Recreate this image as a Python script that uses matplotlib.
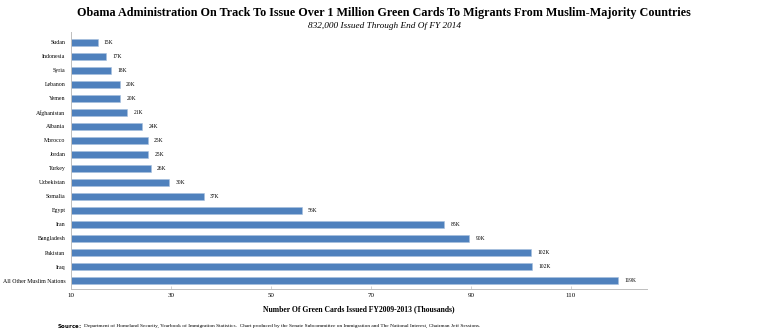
import matplotlib
matplotlib.use("Agg")
import matplotlib.pyplot as plt

# Data (thousands of green cards, FY2009-2013)
countries = ["Sudan", "Indonesia", "Syria", "Lebanon", "Yemen", "Afghanistan",
             "Albania", "Morocco", "Jordan", "Turkey", "Uzbekistan", "Somalia",
             "Egypt", "Iran", "Bangladesh", "Pakistan", "Iraq",
             "All Other Muslim Nations"]
values = [15.4, 17.1, 18.1, 19.8, 19.9, 21.3, 24.3, 25.4, 25.5, 26.0, 29.7, 36.6,
          56.2, 84.7, 89.7, 102.1, 102.3, 119.5]
labels = ["15K", "17K", "18K", "20K", "20K", "21K", "24K", "25K", "25K", "26K",
          "30K", "37K", "56K", "85K", "90K", "102K", "102K", "119K"]
xticks = [10, 30, 50, 70, 90, 110]

plt.rcParams['font.family'] = ['Liberation Serif', 'DejaVu Serif']

fig = plt.figure(figsize=(7.68, 3.31), dpi=100)
ax = fig.add_axes([0.0924, 0.127, 0.75, 0.775])

ypos = list(range(len(countries)))[::-1]
base = 10
ax.barh(ypos, [v - base for v in values], left=base, height=0.5,
        color="#4f81bd", edgecolor="#a7c0de", linewidth=0.4)
for y, v, t in zip(ypos, values, labels):
    ax.text(v + 1.2, y, t, va="center", ha="left", fontsize=4)

ax.set_xlim(10, 125.2)
ax.set_ylim(-0.6, len(countries) - 0.3)
ax.set_yticks(ypos)
ax.set_yticklabels(countries, fontsize=4.2)
ax.set_xticks(xticks)
ax.set_xticklabels([str(x) for x in xticks], fontsize=5)
ax.tick_params(axis="y", length=0, pad=4)
ax.tick_params(axis="x", length=2, width=0.5, color="#bfbfbf", pad=3, direction="in")
for s in ["top", "right"]:
    ax.spines[s].set_visible(False)
for s in ["left", "bottom"]:
    ax.spines[s].set_color("#bfbfbf")
    ax.spines[s].set_linewidth(0.7)

ax.set_xlabel("Number Of Green Cards Issued FY2009-2013 (Thousands)",
              fontsize=5.5, fontweight="bold", labelpad=5)

fig.text(0.5, 0.96, "Obama Administration On Track To Issue Over 1 Million Green Cards To Migrants From Muslim-Majority Countries",
         ha="center", va="center", fontsize=8.7, fontweight="bold")
fig.text(0.5, 0.922, "832,000 Issued Through End Of FY 2014", ha="center", va="center",
         fontsize=6.7, style="italic")
fig.text(0.074, 0.015, r"$\bf{Source:}$", ha="left", va="center", fontsize=3.85)
fig.text(0.11, 0.015, "Department of Homeland Security, Yearbook of Immigration Statistics.  Chart produced by the Senate Subcommittee on Immigration and The National Interest, Chairman Jeff Sessions.",
         ha="left", va="center", fontsize=3.85)

fig.savefig("out.png", dpi=100)
